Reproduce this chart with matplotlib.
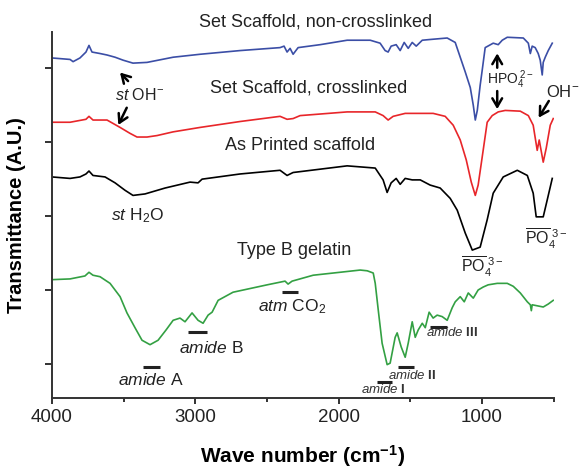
import matplotlib
matplotlib.use('Agg')
import matplotlib.pyplot as plt
import numpy as np

plt.rcParams['font.family'] = ['Liberation Sans', 'DejaVu Sans']
plt.rcParams['mathtext.fontset'] = 'custom'
plt.rcParams['mathtext.rm'] = 'Liberation Sans'
plt.rcParams['mathtext.it'] = 'Liberation Sans:italic'
plt.rcParams['mathtext.bf'] = 'Liberation Sans:bold'

# FTIR spectra (wavenumber cm-1, transmittance in arbitrary offset units)
blue_wn = [4000, 3874, 3853, 3805, 3763, 3742, 3721, 3665, 3616, 3560, 3504, 3435, 3337, 3155,
           2967, 2688, 2409, 2381, 2360, 2339, 2318, 2283, 2129, 1941, 1780, 1711, 1676, 1655,
           1634, 1599, 1571, 1543, 1515, 1487, 1459, 1417, 1362, 1243, 1187, 1152, 1117, 1082,
           1061, 1047, 1033, 1013, 999, 978, 922, 887, 859, 824, 712, 677, 663, 650, 629, 608,
           594, 580, 573, 559, 538, 510]
blue_t = [5.14, 5.12, 5.09, 5.14, 5.22, 5.31, 5.22, 5.20, 5.18, 5.15, 5.11, 5.07, 5.08, 5.15,
          5.19, 5.24, 5.28, 5.30, 5.22, 5.27, 5.19, 5.28, 5.32, 5.38, 5.38, 5.34, 5.24, 5.22,
          5.30, 5.32, 5.24, 5.35, 5.27, 5.35, 5.30, 5.38, 5.39, 5.41, 5.35, 5.15, 4.95, 4.74,
          4.50, 4.30, 4.43, 4.77, 4.97, 5.28, 5.34, 5.32, 5.38, 5.42, 5.41, 5.34, 5.20, 5.30,
          5.28, 5.20, 5.11, 4.91, 5.08, 5.15, 5.24, 5.34]

red_wn = [4000, 3874, 3763, 3742, 3714, 3616, 3525, 3456, 3407, 3337, 3267, 3155, 2967, 2688,
          2409, 2360, 2318, 2269, 1941, 1745, 1690, 1655, 1620, 1536, 1431, 1341, 1257, 1201,
          1152, 1110, 1075, 1047, 1027, 992, 964, 929, 887, 838, 733, 677, 643, 615, 601, 573,
          552, 524, 503]
red_t = [4.27, 4.27, 4.31, 4.35, 4.30, 4.30, 4.20, 4.12, 4.07, 4.07, 4.09, 4.14, 4.20, 4.28,
         4.35, 4.31, 4.32, 4.36, 4.41, 4.41, 4.36, 4.30, 4.35, 4.39, 4.39, 4.39, 4.35, 4.23,
         4.03, 3.76, 3.46, 3.28, 3.42, 3.89, 4.27, 4.36, 4.41, 4.43, 4.42, 4.36, 4.23, 3.89,
         4.03, 3.73, 3.92, 4.23, 4.32]

black_wn = [4000, 3874, 3805, 3763, 3742, 3714, 3630, 3560, 3491, 3435, 3351, 3211, 3037, 2981,
            2953, 2688, 2409, 2360, 2318, 1941, 1745, 1690, 1662, 1634, 1599, 1571, 1536, 1487,
            1431, 1362, 1292, 1222, 1173, 1117, 1068, 1013, 964, 922, 852, 754, 684, 643, 622,
            573, 545, 510]
black_t = [3.53, 3.51, 3.53, 3.57, 3.61, 3.55, 3.53, 3.45, 3.35, 3.28, 3.30, 3.38, 3.46, 3.45,
           3.50, 3.57, 3.62, 3.55, 3.59, 3.68, 3.65, 3.49, 3.32, 3.45, 3.51, 3.43, 3.51, 3.49,
           3.49, 3.42, 3.38, 3.24, 3.08, 2.77, 2.54, 2.58, 2.95, 3.31, 3.53, 3.62, 3.55, 3.31,
           2.99, 2.99, 3.22, 3.51]

green_wn = [4000, 3874, 3770, 3742, 3714, 3665, 3595, 3525, 3477, 3421, 3372, 3316, 3260, 3204,
            3155, 3107, 3072, 3023, 2981, 2946, 2911, 2883, 2841, 2737, 2499, 2374, 2353, 2325,
            2178, 1990, 1850, 1801, 1759, 1745, 1724, 1697, 1662, 1641, 1606, 1592, 1564, 1536,
            1515, 1487, 1466, 1445, 1417, 1396, 1369, 1341, 1313, 1278, 1243, 1208, 1187, 1152,
            1124, 1096, 1061, 1027, 992, 957, 894, 824, 782, 733, 684, 663, 656, 650, 573, 538, 503]
green_t = [2.14, 2.15, 2.19, 2.24, 2.20, 2.18, 2.09, 1.91, 1.69, 1.49, 1.32, 1.26, 1.32, 1.46,
           1.59, 1.62, 1.57, 1.69, 1.59, 1.55, 1.66, 1.70, 1.86, 1.97, 2.07, 2.12, 2.08, 2.12,
           2.20, 2.24, 2.27, 2.26, 2.23, 2.09, 1.73, 1.28, 0.99, 1.01, 1.36, 1.42, 1.23, 1.09,
           1.28, 1.57, 1.36, 1.46, 1.55, 1.49, 1.70, 1.62, 1.66, 1.64, 1.59, 1.76, 1.84, 1.91,
           1.84, 1.96, 1.89, 2.00, 2.04, 2.07, 2.09, 2.09, 2.05, 1.96, 1.84, 1.80, 1.72, 1.80,
           1.77, 1.81, 1.86]

x_major = [4000, 3000, 2000, 1000]
x_minor = [3500, 2500, 1500, 500]
y_ticks = [1, 2, 3, 4, 5]

# band marker bars: (wn_start, wn_end, level)
band_bars = [(3365, 3246, 0.96), (3051, 2918, 1.43), (2395, 2283, 1.97),
             (1732, 1627, 0.76), (1585, 1473, 0.96), (1362, 1243, 1.50)]

fig = plt.figure(figsize=(5.81, 4.72), dpi=100)
ax = fig.add_axes([0.0895, 0.157, 0.8635, 0.775])

lw = 1.2
ax.plot(blue_wn, blue_t, color='#3b4ea6', lw=lw)
ax.plot(red_wn, red_t, color='#e8262a', lw=lw)
ax.plot(black_wn, black_t, color='black', lw=lw)
ax.plot(green_wn, green_t, color='#33a043', lw=lw)

for x0, x1, lev in band_bars:
    ax.plot([x0, x1], [lev, lev], color='#222222', lw=2.2, solid_capstyle='butt')

ax.set_xlim(4000, 500)
ax.set_ylim(0.54, 5.49)
ax.set_xticks(x_major)
ax.set_xticks(x_minor, minor=True)
ax.set_yticks(y_ticks)
ax.set_yticklabels([])
ax.tick_params(axis='x', which='major', direction='out', length=4, width=1.3,
               labelsize=13.5, colors='#222222', pad=4)
ax.tick_params(axis='x', which='minor', direction='out', length=3, width=1.3, colors='#222222')
ax.tick_params(axis='y', direction='out', length=5, width=1.3, colors='#222222')
for s in ['top', 'right']:
    ax.spines[s].set_visible(False)
for s in ['left', 'bottom']:
    ax.spines[s].set_linewidth(1.4)
    ax.spines[s].set_color('#333333')

ax.set_xlabel('Wave number (cm$^{\\mathbf{-1}}$)', fontsize=15, fontweight='bold', labelpad=12)
ax.set_ylabel('Transmittance (A.U.)', fontsize=14.5, fontweight='bold', labelpad=10)

tc = '#222222'
fs = 13
fa = 12.5
ax.text(2164, 5.62, 'Set Scaffold, non-crosslinked', fontsize=fs, ha='center', va='center', color=tc, clip_on=False)
ax.text(2213, 4.73, 'Set Scaffold, crosslinked', fontsize=fs, ha='center', va='center', color=tc)
ax.text(2269, 3.96, 'As Printed scaffold', fontsize=fs, ha='center', va='center', color=tc)
ax.text(2311, 2.54, 'Type B gelatin', fontsize=fs, ha='center', va='center', color=tc)

ax.text(3386, 4.64, r'$\mathit{st}$ OH$^{-}$', fontsize=11.5, ha='center', va='center', color=tc)
ax.text(3407, 3.00, r'$\mathit{st}$ H$_2$O', fontsize=fa, ha='center', va='center', color=tc)
ax.text(803, 4.84, r'HPO$_4^{\ 2-}$', fontsize=10, ha='center', va='center', color=tc)
ax.text(440, 4.68, r'OH$^{-}$', fontsize=12, ha='center', va='center', color=tc, clip_on=False)
ax.text(1000, 2.31, r'$\overline{\mathrm{PO}}_4^{\ 3-}$', fontsize=11.5, ha='center', va='center', color=tc)
ax.text(555, 2.70, r'$\overline{\mathrm{PO}}_4^{\ 3-}$', fontsize=11.5, ha='center', va='center', color=tc, clip_on=False)
ax.text(2325, 1.77, r'$\mathit{atm}$ CO$_2$', fontsize=fa, ha='center', va='center', color=tc)
ax.text(2890, 1.22, r'$\mathit{amide}$ B', fontsize=fa, ha='center', va='center', color=tc)
ax.text(3309, 0.78, r'$\mathit{amide}$ A', fontsize=fa, ha='center', va='center', color=tc)
ax.text(1690, 0.66, r'$\mathbf{\mathit{amide}}$ I', fontsize=9.5, fontweight='bold', ha='center', va='center', color='#333333')
ax.text(1487, 0.84, r'$\mathbf{\mathit{amide}}$ II', fontsize=9.5, fontweight='bold', ha='center', va='center', color='#333333')
ax.text(1208, 1.42, r'$\mathbf{\mathit{amide}}$ III', fontsize=9.5, fontweight='bold', ha='center', va='center', color='#333333')

arrow = dict(arrowstyle='->,head_width=0.35,head_length=0.6', color='black', lw=1.8)
ax.annotate('', xy=(3539, 4.97), xytext=(3456, 4.80), arrowprops=arrow)
ax.annotate('', xy=(3546, 4.20), xytext=(3470, 4.50), arrowprops=arrow)
ax.annotate('', xy=(894, 5.24), xytext=(894, 4.97), arrowprops=arrow)
ax.annotate('', xy=(894, 4.41), xytext=(894, 4.73), arrowprops=arrow)
ax.annotate('', xy=(615, 4.30), xytext=(524, 4.59), arrowprops=arrow, annotation_clip=False)

fig.savefig('out.png', dpi=100)
